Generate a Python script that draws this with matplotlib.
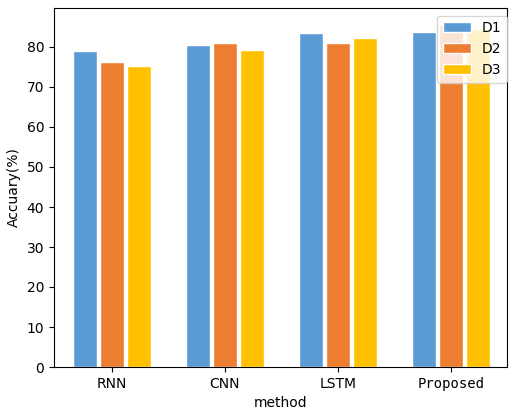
import matplotlib.pyplot as plt
import numpy as np

methods = ['RNN', 'CNN', 'LSTM', 'Proposed']
d1 = [78.9, 80.4, 83.5, 83.7]
d2 = [76.2, 81.1, 81.1, 85.5]
d3 = [75.2, 79.2, 82.3, 84.5]

colors = ['#5B9BD5', '#ED7D31', '#FFC000']

fig = plt.figure(figsize=(5.1, 4.11), dpi=100)
ax = fig.add_axes([54/510, 44/411, 453/510, 359/411])

x = np.arange(len(methods))
w = 0.205
off = 0.239
ax.bar(x - off, d1, w, color=colors[0], edgecolor='white', linewidth=1, label='D1')
ax.bar(x, d2, w, color=colors[1], edgecolor='white', linewidth=1, label='D2')
ax.bar(x + off, d3, w, color=colors[2], edgecolor='white', linewidth=1, label='D3')

ax.set_xticks(x)
ax.set_xticklabels(methods)
ax.get_xticklabels()[3].set_family('DejaVu Sans Mono')
ax.set_xlim(-0.513, 3.496)
ax.set_ylim(0, 89.75)
ax.set_xlabel('method')
ax.set_ylabel('Accuary(%)')
ax.legend(loc='upper right', bbox_to_anchor=(1.0, 0.979), borderaxespad=0)

plt.savefig('out.png')
